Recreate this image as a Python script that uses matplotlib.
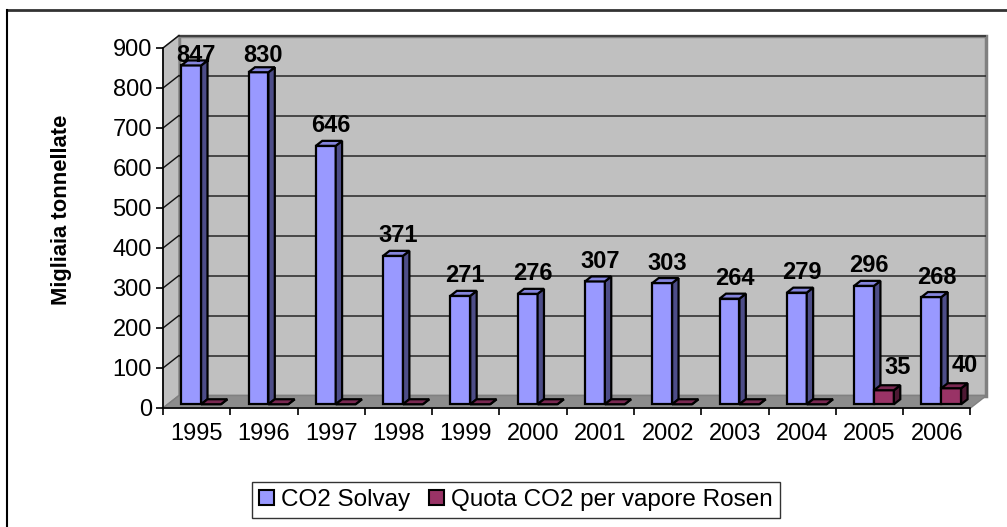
import matplotlib
matplotlib.use("Agg")
import matplotlib.pyplot as plt
from matplotlib.patches import Polygon, Patch
from matplotlib.lines import Line2D

plt.rcParams['font.family'] = ['Liberation Sans', 'DejaVu Sans']

years = ['1995', '1996', '1997', '1998', '1999', '2000',
         '2001', '2002', '2003', '2004', '2005', '2006']
co2_solvay = [847, 830, 646, 371, 271, 276, 307, 303, 264, 279, 296, 268]
quota_rosen = [0, 0, 0, 0, 0, 0, 0, 0, 0, 0, 35, 40]
series_names = ['CO2 Solvay', 'Quota CO2 per vapore Rosen']
y_ticks = [0, 100, 200, 300, 400, 500, 600, 700, 800, 900]
y_title = 'Migliaia tonnellate'

W, H = 1007, 527
fig = plt.figure(figsize=(W / 100, H / 100), dpi=100)
fig.patch.set_facecolor('white')

# front plane of the 3D box, in pixels
x_left, x_right = 163, 970.5
y_zero, y_top = 408, 48
ax = fig.add_axes([x_left / W, 1 - y_zero / H,
                   (x_right - x_left) / W, (y_zero - y_top) / H])
n = len(years)
ymax = 900
ax.set_xlim(0, n)
ax.set_ylim(0, ymax)
ax.patch.set_visible(False)

px_x = (x_right - x_left) / n          # pixels per category
px_y = (y_zero - y_top) / ymax          # pixels per unit
DX = 16 / px_x                          # depth shift in data units
DY = 12.5 / px_y

FS = 17

# walls and floor
wall_col = '#C0C0C0'
ax.add_patch(Polygon([(DX, DY), (n + DX, DY), (n + DX, ymax + DY), (DX, ymax + DY)],
                     closed=True, facecolor=wall_col, edgecolor='#808080',
                     lw=2.5, zorder=1, clip_on=False))
ax.add_patch(Polygon([(0, 0), (0, ymax), (DX, ymax + DY), (DX, DY)],
                     closed=True, facecolor=wall_col, edgecolor='#808080',
                     lw=1, zorder=1, clip_on=False))
ax.add_patch(Polygon([(0, 0), (n, 0), (n + DX, DY), (DX, DY)],
                     closed=True, facecolor='#8C8C8C', edgecolor='#808080',
                     lw=1, zorder=1.5, clip_on=False))

# gridlines on back wall and left wall
for v in y_ticks[1:]:
    ax.plot([DX, n + DX], [v + DY, v + DY], color='#333333', lw=1.2,
            zorder=2, clip_on=False, solid_capstyle='butt')
    ax.plot([0, DX], [v, v + DY], color='#111111', lw=1,
            zorder=2, clip_on=False)

# bars
f0, f1 = 0.3, 0.7
bar_off = 0.2
bar_w = 0.295
styles = [
    dict(front='#9999FF', side='#4D4D88', top='#8585DD'),
    dict(front='#993366', side='#4D1933', top='#7A2952'),
]
label_dx = [5 / px_x, 14 / px_x]
label_dy = [50, 58]


def draw_bar(x0, v, st, z):
    x1 = x0 + bar_w
    b = f0 * DY
    dd = (f1 - f0) * DX
    ddy = (f1 - f0) * DY
    ax.bar([x0], [v], width=bar_w, bottom=b, align='edge',
           facecolor=st['front'], edgecolor='black', lw=1.6, zorder=z)
    ax.add_patch(Polygon([(x1, b), (x1, b + v), (x1 + dd, b + v + ddy), (x1 + dd, b + ddy)],
                         closed=True, facecolor=st['side'], edgecolor='black',
                         lw=1.6, zorder=z, clip_on=False))
    ax.add_patch(Polygon([(x0, b + v), (x1, b + v), (x1 + dd, b + v + ddy), (x0 + dd, b + v + ddy)],
                         closed=True, facecolor=st['top'], edgecolor='black',
                         lw=1.6, zorder=z, clip_on=False))


z = 3
for i in range(n):
    for s, vals in enumerate([co2_solvay, quota_rosen]):
        v = vals[i]
        x0 = i + bar_off + s * bar_w + f0 * DX
        draw_bar(x0, v, styles[s], z)
        z += 0.01
        if v > 0:
            lx = x0 + bar_w / 2 + label_dx[s]
            ly = min(v + f0 * DY + label_dy[s], 882)
            ax.text(lx, ly, str(v), ha='center', va='center', fontsize=FS,
                    fontweight='bold', color='black', zorder=10, clip_on=False)

# axes
for side in ['top', 'right']:
    ax.spines[side].set_visible(False)
for side in ['left', 'bottom']:
    ax.spines[side].set_color('black')
    ax.spines[side].set_linewidth(1.2)
    ax.spines[side].set_zorder(2.5)
ax.set_yticks(y_ticks)
ax.set_yticklabels([str(t) for t in y_ticks])
ax.tick_params(axis='y', direction='out', length=5, width=1.2, pad=3,
               labelsize=FS, colors='black')
ax.set_xticks(range(n + 1))
ax.set_xticklabels([])
ax.tick_params(axis='x', which='major', direction='out', length=5, width=1.2)
ax.set_xticks([i + 0.5 for i in range(n)], minor=True)
ax.set_xticklabels(years, minor=True)
ax.tick_params(axis='x', which='minor', length=0, pad=11, labelsize=FS)

fig.text(62 / W, 1 - 210 / H, y_title, rotation=90, ha='center', va='center',
         fontsize=15.8, fontweight='bold')

# legend
handles = [Patch(facecolor=styles[0]['front'], edgecolor='black', lw=1.5),
           Patch(facecolor=styles[1]['front'], edgecolor='black', lw=1.5)]
leg = fig.legend(handles, series_names, loc='center', ncol=2,
                 bbox_to_anchor=((249 + 783) / 2 / W, 1 - 500 / H),
                 fontsize=17.5, frameon=True, fancybox=False,
                 handlelength=0.62, handleheight=0.62, handletextpad=0.3,
                 columnspacing=0.75, borderpad=0.3, borderaxespad=0)
leg.get_frame().set_edgecolor('black')
leg.get_frame().set_linewidth(1)

# outer border of the chart area
fig.add_artist(Line2D([7 / W, 1], [1 - 10 / H, 1 - 10 / H], color='#333333', lw=2))
fig.add_artist(Line2D([7 / W, 7 / W], [0, 1 - 10 / H], color='black', lw=1.5))

fig.savefig('out.png', dpi=100, facecolor='white')
